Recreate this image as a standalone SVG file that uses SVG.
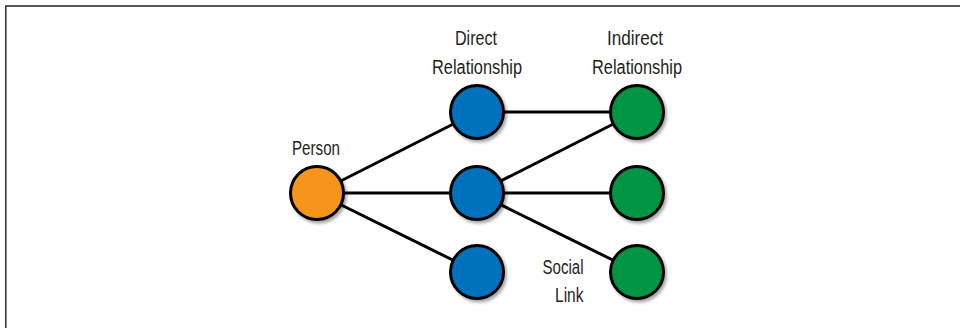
<svg xmlns="http://www.w3.org/2000/svg" width="960" height="328" viewBox="0 0 960 328">
<defs>
<filter id="sh" x="-30%" y="-30%" width="170%" height="170%">
<feDropShadow dx="2" dy="2.5" stdDeviation="1.5" flood-color="#000" flood-opacity="0.35"/>
</filter>
</defs>
<style>
.lbl{font-family:"Liberation Sans",Arial,sans-serif;font-size:19.5px;fill:#231f20}
.node{stroke:#000;stroke-width:3;filter:url(#sh)}
.person{fill:#f7941d}
.direct{fill:#0071bc}
.indirect{fill:#009444}
.edge{stroke:#000;stroke-width:3;fill:none}
</style>
<rect width="960" height="328" fill="#fff"/>
<path d="M5.8 328 V6 H960" fill="none" stroke="#231f20" stroke-width="1.4"/>
<g id="connectors">
<line class="edge" x1="317" y1="193" x2="477" y2="112"/>
<line class="edge" x1="317" y1="193" x2="477" y2="193"/>
<line class="edge" x1="317" y1="193" x2="477" y2="272"/>
<line class="edge" x1="477" y1="112" x2="637" y2="112"/>
<line class="edge" x1="477" y1="193" x2="637" y2="112"/>
<line class="edge" x1="477" y1="193" x2="637" y2="193"/>
<line class="edge" x1="477" y1="193" x2="637" y2="272"/>
</g>
<g id="person">
<circle class="node person" cx="317" cy="193" r="26.5"/>
<text class="lbl" x="316" y="155" text-anchor="middle" textLength="48" lengthAdjust="spacingAndGlyphs">Person</text>
</g>
<g id="direct1">
<circle class="node direct" cx="477" cy="112" r="26.5"/>
<text class="lbl" x="476" y="45" text-anchor="middle" textLength="42" lengthAdjust="spacingAndGlyphs">Direct</text>
<text class="lbl" x="477" y="73.5" text-anchor="middle" textLength="90" lengthAdjust="spacingAndGlyphs">Relationship</text>
</g>
<g id="direct2">
<circle class="node direct" cx="477" cy="193" r="26.5"/>
</g>
<g id="direct3">
<circle class="node direct" cx="477" cy="272" r="26.5"/>
</g>
<g id="indirect1">
<circle class="node indirect" cx="637" cy="112" r="26.5"/>
<text class="lbl" x="635" y="45" text-anchor="middle" textLength="56" lengthAdjust="spacingAndGlyphs">Indirect</text>
<text class="lbl" x="637" y="73.5" text-anchor="middle" textLength="90" lengthAdjust="spacingAndGlyphs">Relationship</text>
</g>
<g id="indirect2">
<circle class="node indirect" cx="637" cy="193" r="26.5"/>
</g>
<g id="indirect3">
<circle class="node indirect" cx="637" cy="272" r="26.5"/>
</g>
<g id="social-link-label">
<text class="lbl" x="583.5" y="273.5" text-anchor="end" textLength="41" lengthAdjust="spacingAndGlyphs">Social</text>
<text class="lbl" x="583.5" y="301.5" text-anchor="end" textLength="28.5" lengthAdjust="spacingAndGlyphs">Link</text>
</g>
</svg>
